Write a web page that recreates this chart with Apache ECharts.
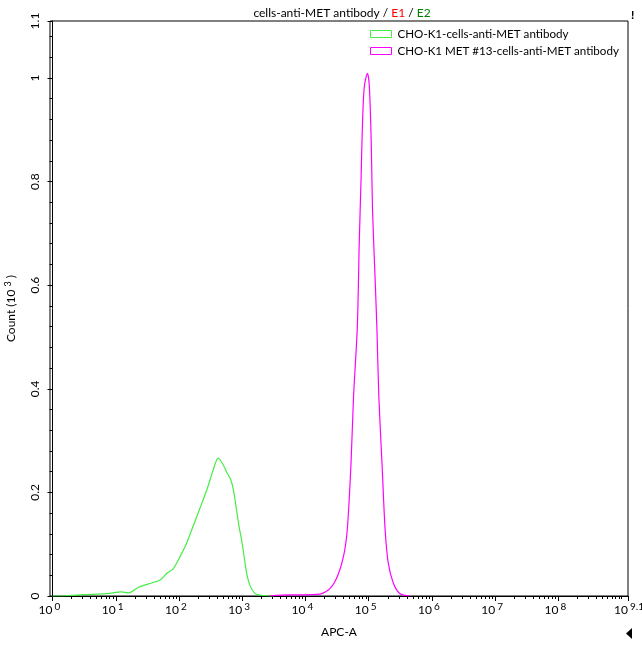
<!DOCTYPE html>
<html>
<head>
<meta charset="utf-8">
<script src="https://cdn.jsdelivr.net/npm/echarts@6/dist/echarts.min.js"></script>
<style>
  html, body { margin: 0; padding: 0; background: #fff; }
  #chart { width: 642px; height: 645px; }
</style>
</head>
<body>
<div id="chart"></div>
<script>
// 데이터 (x = log10(APC-A), y = Count x 10^3)
let greenLog = [0.0, 0.22, 0.49, 0.86, 1.09, 1.2, 1.36, 1.59, 1.7, 1.81, 1.91, 2.02, 2.12, 2.23, 2.33, 2.44, 2.54, 2.62, 2.7, 2.75, 2.82, 2.86, 2.91, 2.95, 2.99, 3.03, 3.07, 3.12, 3.2, 3.28, 3.39, 3.5];
let greenCount = [0.0, 0.0005, 0.0025, 0.0044, 0.008, 0.006, 0.017, 0.026, 0.031, 0.044, 0.053, 0.077, 0.102, 0.137, 0.169, 0.205, 0.243, 0.266, 0.253, 0.24, 0.224, 0.205, 0.166, 0.134, 0.108, 0.076, 0.044, 0.021, 0.005, 0.002, 0.0005, 0.0];

let magentaLog = [3.44, 3.76, 4.18, 4.36, 4.49, 4.6, 4.66, 4.72, 4.76, 4.82, 4.85, 4.88, 4.9, 4.93, 4.98, 5.01, 5.04, 5.06, 5.1, 5.13, 5.16, 5.21, 5.26, 5.31, 5.39, 5.49, 5.65];
let magentaCount = [0.0005, 0.002, 0.003, 0.0116, 0.034, 0.076, 0.127, 0.256, 0.385, 0.52, 0.681, 0.81, 0.906, 0.983, 1.009, 0.983, 0.874, 0.745, 0.616, 0.514, 0.385, 0.256, 0.127, 0.063, 0.0245, 0.005, 0.0];

// 축 눈금
let xMajorTicks = [0, 1, 2, 3, 4, 5, 6, 7, 8, 9.1];
let xMinorFactors = [2, 3, 4, 5, 6, 7, 8, 9];
let yMajorTicks = [0, 0.2, 0.4, 0.6, 0.8, 1, 1.11];
let yMinorStep = 0.04;

let seriesNames = ["CHO-K1-cells-anti-MET antibody", "CHO-K1 MET #13-cells-anti-MET antibody"];
let seriesColors = ["#44ee44", "#ff00ff"];

let fontName = "Lato";

// 보조 눈금 (로그 2..9)
let xMinorTicks = [];
for (let d = 0; d <= 9; d++) {
  xMinorFactors.forEach(function (f) {
    let v = d + Math.log10(f);
    if (v < 9.1) xMinorTicks.push(v);
  });
}
xMinorTicks.push(9);

let yMinorTicks = [];
for (let i = 1; i * yMinorStep < 1.1; i++) {
  let v = +(i * yMinorStep).toFixed(2);
  if (Math.abs(v / 0.2 - Math.round(v / 0.2)) > 0.001) yMinorTicks.push(v);
}

function pairs(xs, ys) {
  return xs.map(function (x, i) { return [x, ys[i]]; });
}

let chart = echarts.init(document.getElementById("chart"));

let option = {
  animation: false,
  textStyle: { fontFamily: fontName },
  title: {
    text: "{a|cells-anti-MET antibody / }{r|E1}{a| / }{g|E2}",
    left: 337,
    top: 2,
    textAlign: "center",
    textStyle: {
      fontWeight: "normal",
      rich: {
        a: { fontFamily: fontName, fontSize: 12, fontWeight: "normal", color: "#000" },
        r: { fontFamily: fontName, fontSize: 12, fontWeight: "normal", color: "#ff0000" },
        g: { fontFamily: fontName, fontSize: 12, fontWeight: "normal", color: "#008000" },
      },
    },
  },
  legend: {
    orient: "vertical",
    left: 365,
    top: 23,
    itemWidth: 21,
    itemHeight: 7,
    itemGap: 5,
    icon: "rect",
    textStyle: { fontFamily: fontName, fontSize: 11.6, color: "#000", padding: [0, 0, 0, 1] },
    data: seriesNames.map(function (n, i) {
      return { name: n, itemStyle: { color: "transparent", borderColor: seriesColors[i], borderWidth: 1 } };
    }),
  },
  grid: {
    left: 50,
    right: 14,
    top: 21,
    bottom: 49,
    show: true,
    borderColor: "#000",
    borderWidth: 1,
    containLabel: false,
    outerBoundsMode: "none",
  },
  xAxis: [
    {
      type: "value",
      min: -0.04,
      max: 9.1,
      name: "APC-A",
      nameLocation: "middle",
      nameGap: 30,
      nameTextStyle: { fontFamily: fontName, fontSize: 12, color: "#000" },
      axisLine: { lineStyle: { color: "#000", width: 1 } },
      axisTick: { show: true, length: 5, customValues: xMajorTicks, lineStyle: { color: "#000" } },
      axisLabel: {
        customValues: xMajorTicks,
        align: "right",
        margin: 8,
        fontFamily: fontName,
        fontSize: 12,
        color: "#000",
        formatter: function () { return "10"; },
      },
      splitLine: { show: false },
    },
    {
      type: "value",
      min: -0.04,
      max: 9.1,
      position: "bottom",
      axisLine: { show: false },
      axisTick: { show: true, length: 3, customValues: xMinorTicks, lineStyle: { color: "#000" } },
      axisLabel: {
        customValues: xMajorTicks,
        align: "left",
        margin: 6,
        padding: [0, 0, 0, 2],
        fontFamily: fontName,
        fontSize: 10,
        color: "#000",
        formatter: function (v) { return String(+v.toFixed(1)); },
      },
      splitLine: { show: false },
    },
  ],
  yAxis: [
    {
      type: "value",
      min: 0,
      max: 1.11,
      name: "{n|Count (10 }{s|3}{n| )}",
      nameLocation: "middle",
      nameRotate: 90,
      nameGap: 32,
      nameTextStyle: {
        rich: {
          n: { fontFamily: fontName, fontSize: 12, color: "#000" },
          s: { fontFamily: fontName, fontSize: 9, color: "#000", verticalAlign: "top", padding: [0, 0, 5, 0] },
        },
      },
      axisLine: { lineStyle: { color: "#000", width: 1 } },
      axisTick: { show: true, length: 5, customValues: yMajorTicks, lineStyle: { color: "#000" } },
      axisLabel: {
        customValues: yMajorTicks,
        rotate: 90,
        margin: 9,
        fontFamily: fontName,
        fontSize: 12,
        color: "#000",
        formatter: function (v) { return v > 1.05 ? "1.1" : String(+v.toFixed(1)); },
      },
      splitLine: { show: false },
    },
    {
      type: "value",
      min: 0,
      max: 1.11,
      position: "left",
      axisLine: { show: false },
      axisTick: { show: true, length: 3, customValues: yMinorTicks, lineStyle: { color: "#000" } },
      axisLabel: { show: false },
      splitLine: { show: false },
    },
  ],
  graphic: [
    {
      type: "text",
      left: 631,
      top: 9,
      style: { text: "!", fontFamily: fontName, fontSize: 12, fontWeight: "bold", fill: "#000" },
    },
    {
      type: "polygon",
      shape: { points: [[632, 628], [632, 639], [626, 633.5]] },
      style: { fill: "#000" },
    },
  ],
  series: [
    {
      name: seriesNames[0],
      type: "line",
      data: pairs(greenLog, greenCount),
      smooth: 0.3,
      symbol: "none",
      lineStyle: { color: seriesColors[0], width: 1.2 },
      itemStyle: { color: seriesColors[0] },
    },
    {
      name: seriesNames[1],
      type: "line",
      data: pairs(magentaLog, magentaCount),
      smooth: 0.3,
      symbol: "none",
      lineStyle: { color: seriesColors[1], width: 1.2 },
      itemStyle: { color: seriesColors[1] },
    },
  ],
};

chart.setOption(option);
</script>
</body>
</html>
